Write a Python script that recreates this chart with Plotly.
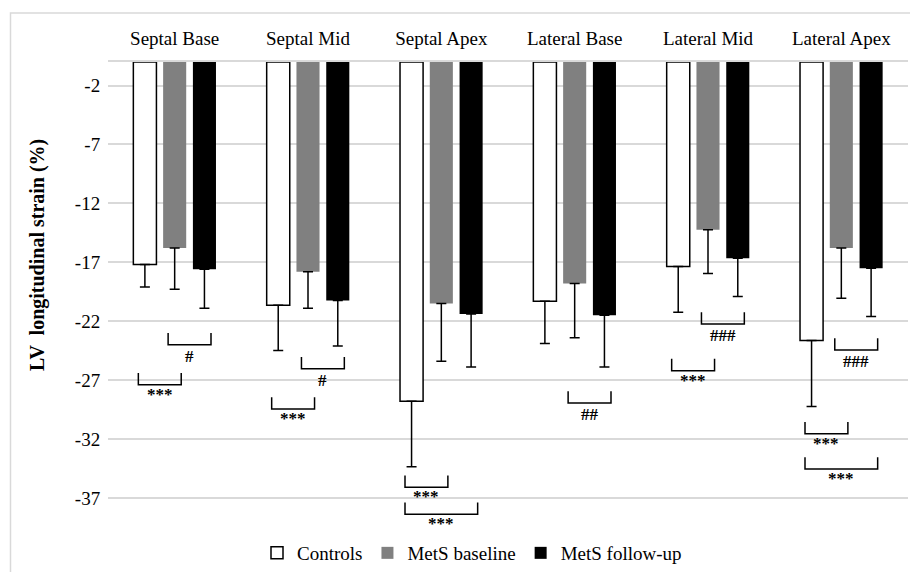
import plotly.graph_objects as go

# ---------------- data ----------------
categories = ["Septal Base", "Septal Mid", "Septal Apex",
              "Lateral Base", "Lateral Mid", "Lateral Apex"]
series_names = ["Controls", "MetS baseline", "MetS follow-up"]

controls = [-17.2, -20.65, -28.8, -20.3, -17.35, -23.65]
controls_sd = [1.9, 3.85, 5.55, 3.6, 3.9, 5.6]

mets_baseline = [-15.8, -17.8, -20.5, -18.8, -14.25, -15.8]
mets_baseline_sd = [3.5, 3.1, 4.9, 4.6, 3.7, 4.25]

mets_followup = [-17.6, -20.25, -21.4, -21.5, -16.65, -17.5]
mets_followup_sd = [3.3, 3.85, 4.5, 4.4, 3.25, 4.1]

y_tick_vals = [-2, -7, -12, -17, -22, -27, -32, -37]
y_tick_text = ["-2", "-7", "-12", "-17", "-22", "-27", "-32", "-37"]
y_title = "LV  longitudinal strain (%)"

# significance brackets: category, first series index, last series index, level, label
bracket_category = ["Septal Base", "Septal Base", "Septal Mid", "Septal Mid",
                    "Septal Apex", "Septal Apex", "Lateral Base", "Lateral Mid",
                    "Lateral Mid", "Lateral Apex", "Lateral Apex", "Lateral Apex"]
bracket_from = [1, 0, 1, 0, 0, 0, 1, 1, 0, 1, 0, 0]
bracket_to = [2, 1, 2, 1, 1, 2, 2, 2, 1, 2, 1, 2]
bracket_level = [-24.0, -27.4, -26.05, -29.45, -36.1, -38.4,
                 -28.95, -22.25, -26.2, -24.45, -31.55, -34.55]
bracket_label = ["#", "***", "#", "***", "***", "***",
                 "##", "###", "***", "###", "***", "***"]

# ---------------- styling ----------------
FONT = "Liberation Serif"
BARGAP = 0.33
BARGROUPGAP = 0.225
fills = ["#ffffff", "#808080", "#000000"]
outline = ["#000000", "#808080", "#000000"]
outline_w = [1.5, 0, 0]

values = [controls, mets_baseline, mets_followup]
sds = [controls_sd, mets_baseline_sd, mets_followup_sd]

fig = go.Figure()
for name, v, sd, fc, lc, lw in zip(series_names, values, sds, fills, outline, outline_w):
    fig.add_trace(go.Bar(
        x=categories, y=v, name=name,
        marker=dict(color=fc, line=dict(color=lc, width=lw)),
        error_y=dict(type="data", symmetric=False,
                     array=[0] * len(sd), arrayminus=sd,
                     color="#000000", thickness=1.5, width=5),
    ))

slot = (1 - BARGAP) / 3
pad = 0.22 * slot
tick_h = 1.0
shapes = []
annotations = []
for cat, a, b, lev, lab in zip(bracket_category, bracket_from, bracket_to,
                               bracket_level, bracket_label):
    idx = categories.index(cat)
    x0 = idx + (a - 1) * slot - pad
    x1 = idx + (b - 1) * slot + pad
    shapes.append(dict(
        type="path", xref="x", yref="y",
        path=f"M {x0},{lev + tick_h} L {x0},{lev} L {x1},{lev} L {x1},{lev + tick_h}",
        line=dict(color="#000000", width=1.5),
    ))
    annotations.append(dict(
        x=(x0 + x1) / 2, y=lev, xref="x", yref="y",
        text=f"<b>{lab}</b>", showarrow=False,
        yanchor="top", yshift=2 if lab.startswith("*") else 0,
        font=dict(family=FONT, size=17, color="#000000"),
    ))

# plot area geometry (figure px): left 100, right 900, top 54, bottom 559
PLOT_W = 800
PLOT_H = 505
# y-axis title (rotated)
annotations.append(dict(
    x=(29 - 100) / PLOT_W, y=(559 - 247) / PLOT_H, xref="paper", yref="paper",
    text=f"<b>{y_title}</b>", textangle=-90, showarrow=False,
    xanchor="center", yanchor="middle",
    font=dict(family=FONT, size=20, color="#000000"),
))

# chart-area border (light gray)
shapes.append(dict(type="rect", xref="paper", yref="paper",
                   x0=(2.5 - 100) / PLOT_W, x1=1.05, y0=-0.1, y1=1 + 49 / PLOT_H,
                   line=dict(color="#d9d9d9", width=1.5), fillcolor="rgba(0,0,0,0)",
                   layer="below"))

fig.update_layout(
    width=918, height=572,
    margin=dict(l=100, r=18, t=54, b=13, autoexpand=False),
    paper_bgcolor="#ffffff", plot_bgcolor="#ffffff",
    barmode="group", bargap=BARGAP, bargroupgap=BARGROUPGAP,
    font=dict(family=FONT, size=19, color="#000000"),
    showlegend=True,
    legend=dict(orientation="h", x=0.455, xanchor="center",
                y=14 / PLOT_H, yanchor="middle",
                font=dict(family=FONT, size=19, color="#000000"),
                itemwidth=30, bgcolor="rgba(0,0,0,0)"),
    xaxis=dict(side="top", type="category", automargin=False,
               showline=True, linecolor="#d9d9d9", linewidth=1.5,
               showgrid=False, ticks="outside", ticklen=8,
               tickcolor="rgba(0,0,0,0)",
               tickfont=dict(family=FONT, size=19, color="#000000")),
    yaxis=dict(range=[-(PLOT_H / 11.78), 0], tickvals=y_tick_vals, ticktext=y_tick_text,
               automargin=False,
               showgrid=True, gridcolor="#d9d9d9", gridwidth=1.5,
               zeroline=False, showline=False,
               ticks="outside", ticklen=3, tickcolor="rgba(0,0,0,0)",
               tickfont=dict(family=FONT, size=19, color="#000000")),
    shapes=shapes,
    annotations=annotations,
)

fig.write_html("out.html")
